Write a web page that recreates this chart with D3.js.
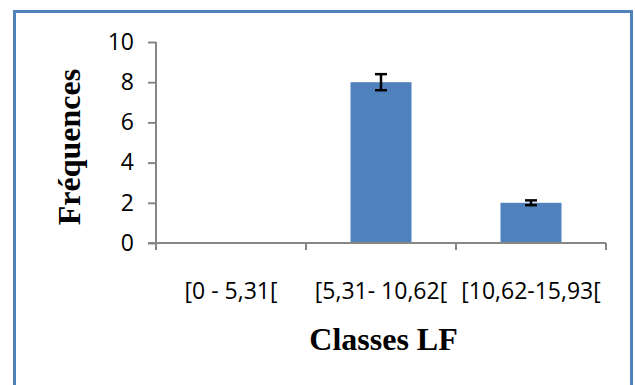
<!DOCTYPE html>
<html>
<head>
<meta charset="utf-8">
<script src="https://cdn.jsdelivr.net/npm/d3@7"></script>
<style>
  html, body { margin: 0; padding: 0; background: #fff; overflow: hidden; }
  svg { display: block; }
</style>
</head>
<body>
<script>
const categories = ["[0 - 5,31[", "[5,31- 10,62[", "[10,62-15,93["];
const values = [0, 8, 2];
const errors = [0, 0.4, 0.12];
const yTicks = [0, 2, 4, 6, 8, 10];
const xTitle = "Classes LF";
const yTitle = "Fréquences";

(function () {
const W = 635, H = 385;
const svg = d3.select("body").append("svg").attr("width", W).attr("height", H);

// outer border
svg.append("rect").attr("x", 14.5).attr("y", 11.5).attr("width", 617).attr("height", 385)
  .attr("fill", "#fff").attr("stroke", "#4f81bd").attr("stroke-width", 3);

const pLeft = 156, pRight = 606, pTop = 42, pBottom = 243;
const x = d3.scaleBand().domain(categories).range([pLeft, pRight]).paddingInner(0).paddingOuter(0);
const y = d3.scaleLinear().domain([0, 10]).range([pBottom, pTop]);
const axisColor = "#868686";
const tickFont = "'Open Sans', 'Noto Sans', sans-serif";

// y axis
const yAxis = svg.append("g").attr("transform", `translate(${pLeft},0)`)
  .call(d3.axisLeft(y).tickValues(yTicks).tickSize(8).tickPadding(14).tickFormat(d3.format("d")));
yAxis.select(".domain").attr("stroke", axisColor).attr("stroke-width", 2)
  .attr("d", `M0,${pTop}V${pBottom + 7}`);
yAxis.selectAll(".tick line").attr("stroke", axisColor).attr("stroke-width", 2);
yAxis.selectAll(".tick text").attr("font-family", tickFont).attr("font-size", 23).attr("fill", "#000");

// bars
const barW = 61;
svg.selectAll("rect.bar").data(values).join("rect").attr("class", "bar")
  .attr("x", (d, i) => x(categories[i]) + x.bandwidth() / 2 - barW / 2)
  .attr("width", barW)
  .attr("y", d => y(d))
  .attr("height", d => y(0) - y(d))
  .attr("fill", "#4f81bd");

// x axis
const xAxisG = svg.append("g").attr("transform", `translate(0,${pBottom})`);
xAxisG.append("path").attr("d", `M${pLeft - 8},0H${pRight}`).attr("stroke", axisColor).attr("stroke-width", 2).attr("fill", "none");
const bounds = [pLeft].concat(categories.map(c => x(c) + x.bandwidth()));
xAxisG.selectAll("line.xt").data(bounds).join("line").attr("class", "xt")
  .attr("x1", d => d).attr("x2", d => d).attr("y1", 0).attr("y2", 7)
  .attr("stroke", axisColor).attr("stroke-width", 2);
svg.append("g").selectAll("text").data(categories).join("text")
  .attr("x", d => x(d) + x.bandwidth() / 2)
  .attr("y", 290)
  .attr("text-anchor", "middle").attr("dominant-baseline", "central")
  .attr("font-family", tickFont).attr("font-size", 23).attr("fill", "#000")
  .text(d => d);

// error bars
const capW = 12;
const eb = svg.append("g").attr("stroke", "#000").attr("stroke-width", 2.5);
values.forEach((v, i) => {
  if (errors[i] <= 0) return;
  const cx = x(categories[i]) + x.bandwidth() / 2;
  eb.append("line").attr("x1", cx).attr("x2", cx).attr("y1", y(v + errors[i])).attr("y2", y(v - errors[i]));
  eb.append("line").attr("x1", cx - capW / 2).attr("x2", cx + capW / 2).attr("y1", y(v + errors[i])).attr("y2", y(v + errors[i]));
  eb.append("line").attr("x1", cx - capW / 2).attr("x2", cx + capW / 2).attr("y1", y(v - errors[i])).attr("y2", y(v - errors[i]));
});

// titles
const titleFont = "'Liberation Serif', 'Times New Roman', serif";
svg.append("text").attr("x", 383.5).attr("y", 350).attr("text-anchor", "middle")
  .attr("font-family", titleFont).attr("font-weight", "bold").attr("font-size", 32).attr("fill", "#000")
  .text(xTitle);
svg.append("text").attr("transform", "translate(80,147) rotate(-90)").attr("text-anchor", "middle")
  .attr("font-family", titleFont).attr("font-weight", "bold").attr("font-size", 32).attr("fill", "#000")
  .text(yTitle);
})();
</script>
</body>
</html>
